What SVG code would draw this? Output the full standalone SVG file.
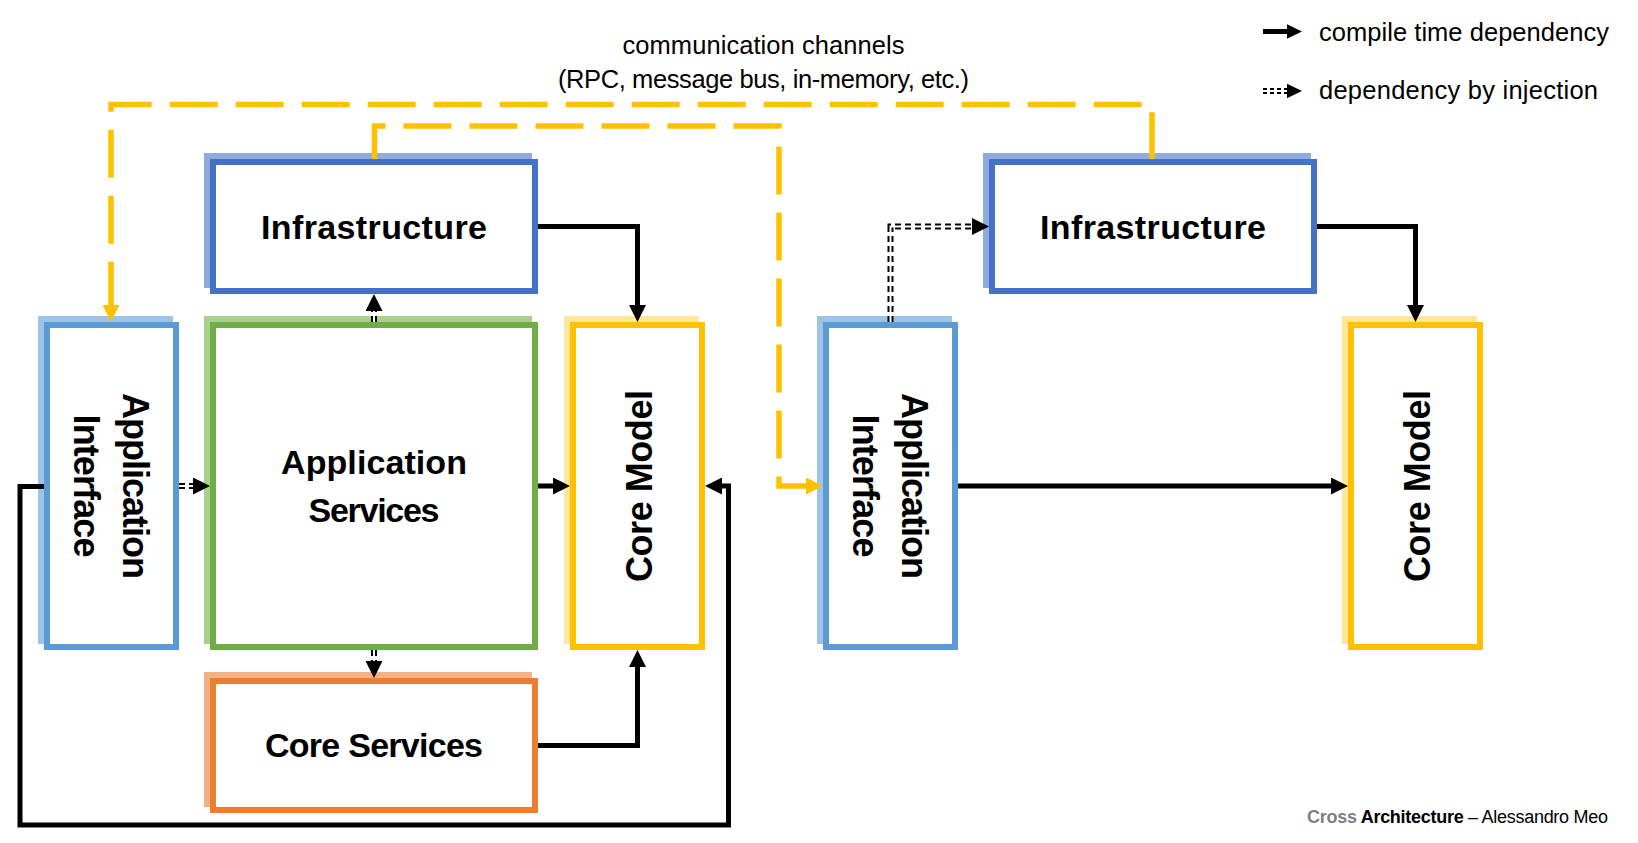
<svg xmlns="http://www.w3.org/2000/svg" width="1638" height="843" viewBox="0 0 1638 843">
<defs>
<style>
.box{fill:#fff;stroke-width:6}
.lbl{font-family:"Liberation Sans",Arial,sans-serif;font-weight:bold;font-size:34px;fill:#000;text-anchor:middle}
.v{font-size:36px}
.txt{font-family:"Liberation Sans",Arial,sans-serif;font-size:25.5px;fill:#000}
.solid{fill:none;stroke:#000;stroke-width:5;stroke-linejoin:miter;marker-end:url(#ah)}
.inj{fill:none;stroke:#000;stroke-width:6;stroke-dasharray:6 4;marker-end:url(#ah)}
.injw{fill:none;stroke:#fff;stroke-width:2}
.chan{fill:none;stroke:#FFC000;stroke-width:5.5;stroke-dasharray:48 18;marker-end:url(#ahy)}
</style>
<marker id="ah" markerUnits="userSpaceOnUse" markerWidth="17" markerHeight="17" refX="9" refY="8.5" orient="auto" viewBox="0 0 17 17"><path d="M0,0 L17,8.5 L0,17 Z" fill="#000"/></marker>
<marker id="ahy" markerUnits="userSpaceOnUse" markerWidth="17" markerHeight="17" refX="9" refY="8.5" orient="auto" viewBox="0 0 17 17"><path d="M0,0 L17,8.5 L0,17 Z" fill="#FFC000"/></marker>
</defs>
<rect width="1638" height="843" fill="#fff"/>

<g id="infra-left">
<rect x="204" y="153" width="328" height="135" fill="#8FAADC"/>
<rect class="box" x="213" y="162" width="322" height="129" stroke="#4472C4"/>
<text class="lbl" x="374" y="239" textLength="226">Infrastructure</text>
</g>
<g id="app-interface-left">
<rect x="38" y="316" width="135" height="328" fill="#9DC3E6"/>
<rect class="box" x="47" y="325" width="129" height="322" stroke="#5B9BD5"/>
<text class="lbl v" transform="translate(122.5,486) rotate(90)" textLength="186">Application</text>
<text class="lbl v" transform="translate(73.5,486) rotate(90)" textLength="143">Interface</text>
</g>
<g id="app-services">
<rect x="204" y="316" width="328" height="328" fill="#A9D18E"/>
<rect class="box" x="213" y="325" width="322" height="322" stroke="#70AD47"/>
<text class="lbl" x="374" y="474" textLength="186">Application</text>
<text class="lbl" x="374" y="522" textLength="131">Services</text>
</g>
<g id="core-model-left">
<rect x="564" y="316" width="135" height="328" fill="#FFE699"/>
<rect class="box" x="573" y="325" width="129" height="322" stroke="#FFC000"/>
<text class="lbl v" transform="translate(651.5,486) rotate(-90)" textLength="192">Core Model</text>
</g>
<g id="core-services">
<rect x="204" y="672" width="328" height="135" fill="#F4B183"/>
<rect class="box" x="213" y="681" width="322" height="129" stroke="#ED7D31"/>
<text class="lbl" x="374" y="757" textLength="218">Core Services</text>
</g>
<g id="infra-right">
<rect x="983" y="153" width="328" height="135" fill="#8FAADC"/>
<rect class="box" x="992" y="162" width="322" height="129" stroke="#4472C4"/>
<text class="lbl" x="1153" y="239" textLength="226">Infrastructure</text>
</g>
<g id="app-interface-right">
<rect x="817" y="316" width="135" height="328" fill="#9DC3E6"/>
<rect class="box" x="826" y="325" width="129" height="322" stroke="#5B9BD5"/>
<text class="lbl v" transform="translate(901.5,486) rotate(90)" textLength="186">Application</text>
<text class="lbl v" transform="translate(852.5,486) rotate(90)" textLength="143">Interface</text>
</g>
<g id="core-model-right">
<rect x="1342" y="316" width="135" height="328" fill="#FFE699"/>
<rect class="box" x="1351" y="325" width="129" height="322" stroke="#FFC000"/>
<text class="lbl v" transform="translate(1429.5,486) rotate(-90)" textLength="192">Core Model</text>
</g>

<g id="connectors">
<path class="solid" d="M538,226.5 H637.5 V314"/>
<path class="solid" d="M538,486 H562"/>
<path class="solid" d="M538,745.5 H637.5 V658"/>
<path class="solid" d="M44,486.5 H20 V825 H728.5 V486 H713"/>
<path class="solid" d="M958,486 H1340"/>
<path class="solid" d="M1317,226.5 H1415.5 V314"/>
<path class="inj" d="M179,486 H202"/>
<path class="injw" d="M179,486 H193"/>
<path class="inj" d="M374,322 V302"/>
<path class="injw" d="M374,322 V311"/>
<path class="inj" d="M374,650 V670"/>
<path class="injw" d="M374,650 V661"/>
<path class="inj" d="M890.5,322 V226.5 H981"/>
<path class="injw" d="M890.5,322 V226.5 H972"/>
<path class="chan" stroke-dashoffset="1.2" d="M1152,159 V104.5 H111 V314"/>
<path class="chan" stroke-dashoffset="4" d="M374.5,159 V126 H779 V486 H815"/>
</g>

<g id="channel-label">
<text class="txt" x="763.5" y="54" text-anchor="middle" textLength="282">communication channels</text>
<text class="txt" x="763.5" y="88" text-anchor="middle" textLength="411">(RPC, message bus, in-memory, etc.)</text>
</g>

<g id="legend">
<line x1="1263" y1="31.5" x2="1289" y2="31.5" stroke="#000" stroke-width="5"/>
<polygon points="1287,24.3 1302,31.5 1287,38.7" fill="#000"/>
<text class="txt" x="1319" y="40.5" textLength="290">compile time dependency</text>
<line x1="1263" y1="91" x2="1290" y2="91" stroke="#000" stroke-width="6" stroke-dasharray="4 3"/>
<line x1="1263" y1="91" x2="1290" y2="91" stroke="#fff" stroke-width="2"/>
<polygon points="1287,83.8 1302,91 1287,98.2" fill="#000"/>
<text class="txt" x="1319" y="99" textLength="279">dependency by injection</text>
</g>

<g id="footer">
<text x="1307" y="823" font-family="'Liberation Sans',Arial,sans-serif" font-size="18px" textLength="301"><tspan font-weight="bold" fill="#7F7F7F">Cross</tspan><tspan font-weight="bold" fill="#000"> Architecture</tspan><tspan fill="#000"> – Alessandro Meo</tspan></text>
</g>
</svg>
